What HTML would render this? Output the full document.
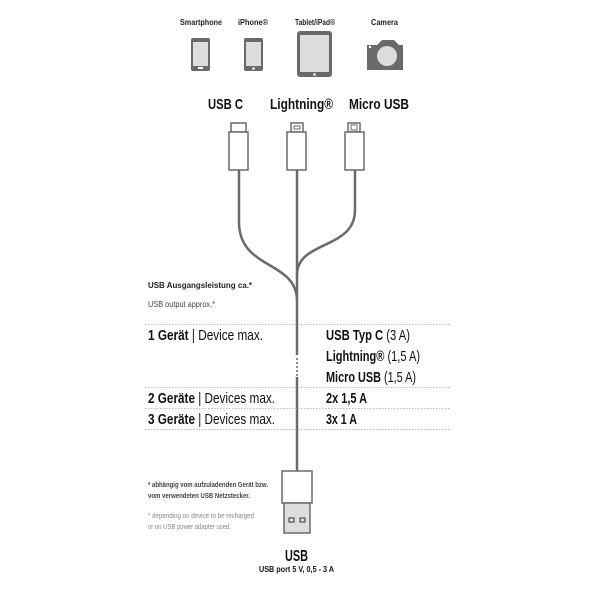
<!DOCTYPE html>
<html><head><meta charset="utf-8"><style>
body{margin:0;background:#fff;}
svg{display:block;font-family:"Liberation Sans",sans-serif;}
</style></head><body>
<svg width="600" height="602" viewBox="0 0 600 602" xmlns="http://www.w3.org/2000/svg">
<g font-size="8" font-weight="bold" fill="#222" lengthAdjust="spacingAndGlyphs">
<text x="180" y="25" textLength="42" lengthAdjust="spacingAndGlyphs">Smartphone</text>
<text x="238" y="25" textLength="30" lengthAdjust="spacingAndGlyphs">iPhone®</text>
<text x="295" y="25" textLength="40" lengthAdjust="spacingAndGlyphs">Tablet/iPad®</text>
<text x="371" y="25" textLength="27" lengthAdjust="spacingAndGlyphs">Camera</text>
</g>
<g fill="#6a6a6a">
<rect x="191" y="38" width="19" height="33" rx="2"/><rect x="244" y="38" width="19" height="33" rx="2"/>
<rect x="297" y="31" width="35" height="46" rx="3"/>
<path d="M367 45 h10 l5 -5 h12 l5 5 h4 v25 h-36z"/>
</g>
<g fill="#ddd">
<rect x="193" y="42" width="15" height="24"/><rect x="246" y="42" width="15" height="24"/><rect x="300" y="35" width="29" height="37"/>
<circle cx="387" cy="56" r="10"/>
</g>
<g fill="#fff"><rect x="198" y="67" width="5" height="2"/><circle cx="253.5" cy="68.5" r="1.3"/><circle cx="314.5" cy="74.5" r="1.3"/><circle cx="370" cy="47" r="1.2"/></g>
<g font-size="15" font-weight="bold" fill="#111">
<text x="208" y="109" textLength="35" lengthAdjust="spacingAndGlyphs">USB C</text>
<text x="270" y="109" textLength="63" lengthAdjust="spacingAndGlyphs">Lightning®</text>
<text x="349" y="109" textLength="60" lengthAdjust="spacingAndGlyphs">Micro USB</text>
</g>
<g fill="none" stroke="#6a6a6a" stroke-width="2.5">
<path d="M239 170 V222 C239 270 296 260 297 300"/>
<path d="M355 170 V210 C355 250 297 240 297 275"/>
<path d="M297 170 V355 M297 377 V471"/>
</g>
<g fill="#fff" stroke="#6a6a6a" stroke-width="1.5">
<rect x="231" y="123" width="15" height="9"/><rect x="229" y="132" width="19" height="38"/>
<rect x="291" y="123" width="12" height="9"/><rect x="287" y="132" width="19" height="38"/>
<rect x="348" y="123" width="12" height="9"/><rect x="345" y="132" width="19" height="38"/>
<rect x="282" y="471" width="30" height="32"/>
</g>
<rect x="294" y="126" width="6" height="3" fill="none" stroke="#6a6a6a"/>
<rect x="351" y="125" width="6" height="5" fill="none" stroke="#6a6a6a"/>
<rect x="284" y="503" width="26" height="30" fill="#ddd" stroke="#6a6a6a" stroke-width="1.5"/>
<g fill="none" stroke="#333"><rect x="289" y="518" width="5" height="4"/><rect x="300" y="518" width="5" height="4"/></g>
<g fill="#6a6a6a"><circle cx="297" cy="359" r="1"/><circle cx="297" cy="363" r="1"/><circle cx="297" cy="367" r="1"/><circle cx="297" cy="371" r="1"/><circle cx="297" cy="375" r="1"/></g>
<text x="148" y="288" font-size="8.5" font-weight="bold" fill="#222" textLength="104" lengthAdjust="spacingAndGlyphs">USB Ausgangsleistung ca.*</text>
<text x="148" y="307" font-size="8.5" fill="#444" textLength="67" lengthAdjust="spacingAndGlyphs">USB output approx.*</text>
<g stroke="#bbb" stroke-dasharray="1.5 1.5"><path d="M145 324.5H450M145 387.5H450M145 408.5H450M145 429.5H450"/></g>
<g font-size="14.5" fill="#111">
<text x="148" y="340" textLength="115" lengthAdjust="spacingAndGlyphs"><tspan font-weight="bold">1 Gerät</tspan> | Device max.</text>
<text x="148" y="403" textLength="127" lengthAdjust="spacingAndGlyphs"><tspan font-weight="bold">2 Geräte</tspan> | Devices max.</text>
<text x="148" y="424" textLength="127" lengthAdjust="spacingAndGlyphs"><tspan font-weight="bold">3 Geräte</tspan> | Devices max.</text>
<text x="326" y="340" textLength="84" lengthAdjust="spacingAndGlyphs"><tspan font-weight="bold">USB Typ C</tspan> (3 A)</text>
<text x="326" y="361" textLength="94" lengthAdjust="spacingAndGlyphs"><tspan font-weight="bold">Lightning®</tspan> (1,5 A)</text>
<text x="326" y="382" textLength="90" lengthAdjust="spacingAndGlyphs"><tspan font-weight="bold">Micro USB</tspan> (1,5 A)</text>
<text x="326" y="403" font-weight="bold" textLength="41" lengthAdjust="spacingAndGlyphs">2x 1,5 A</text>
<text x="326" y="424" font-weight="bold" textLength="31" lengthAdjust="spacingAndGlyphs">3x 1 A</text>
</g>
<g font-size="7.5">
<text x="148" y="487" font-weight="bold" fill="#444" textLength="120" lengthAdjust="spacingAndGlyphs">* abhängig vom aufzuladenden Gerät bzw.</text>
<text x="148" y="498" font-weight="bold" fill="#444" textLength="102" lengthAdjust="spacingAndGlyphs">vom verwendeten USB Netzstecker.</text>
<text x="148" y="518" fill="#888" textLength="106" lengthAdjust="spacingAndGlyphs">* depending on device to be recharged</text>
<text x="148" y="529" fill="#888" textLength="83" lengthAdjust="spacingAndGlyphs">or on USB power adapter used.</text>
</g>
<text x="285" y="561" font-size="16" font-weight="bold" fill="#111" textLength="23" lengthAdjust="spacingAndGlyphs">USB</text>
<text x="259" y="572" font-size="8.5" font-weight="bold" fill="#111" textLength="75" lengthAdjust="spacingAndGlyphs">USB port 5 V, 0,5  - 3 A</text>
</svg>
</body></html>
